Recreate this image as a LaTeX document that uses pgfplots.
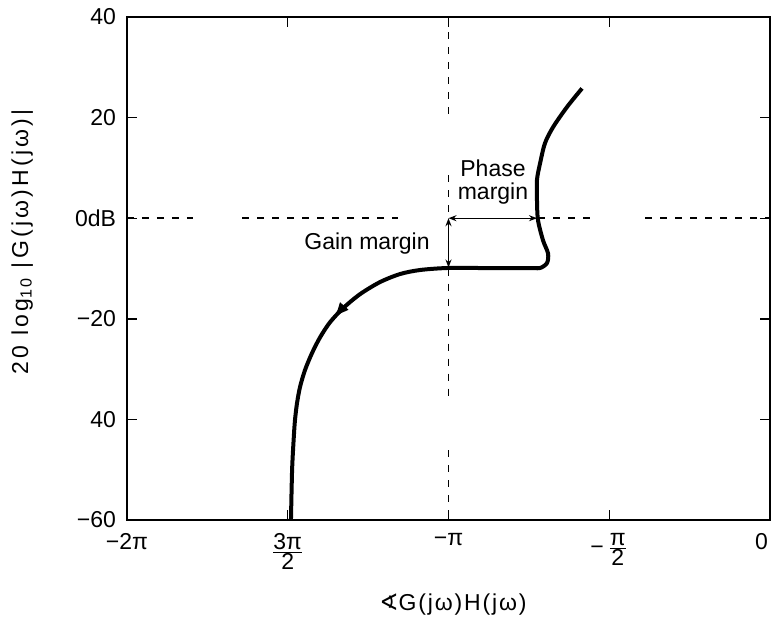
\documentclass[border=0pt]{standalone}
\usepackage{fontspec}
\setmainfont{Liberation Sans}
\newfontfamily\dejavu{DejaVu Sans}
\usepackage{pgfplots}
\pgfplotsset{compat=1.18}
\usetikzlibrary{arrows.meta,decorations.markings}
\begin{document}
\begin{tikzpicture}[x=1pt,y=1pt]
\useasboundingbox (-63.5,-59.5) rectangle (322.5,260);
\begin{axis}[
  at={(0,0)}, anchor=south west,
  width=321.5pt, height=251.5pt, scale only axis,
  xmin=-6.2832, xmax=0, ymin=-60, ymax=40,
  xtick={-6.2832,-4.7124,-3.1416,-1.5708,0},
  xticklabels={−2π, $\frac{\mbox{3π}}{\mbox{2}}$, −π, −\,$\frac{\mbox{π}}{\mbox{2}}$, \makebox[0pt][r]{0\hspace*{1pt}}},
  ytick={-60,-40,-20,0,20,40},
  yticklabels={−60,40,−20,0dB,20,40},
  tick align=inside, major tick length=5pt,
  axis line style={line width=0.8pt},
  every tick/.style={black, line width=0.7pt},
  tick label style={font=\fontsize{11.5}{13}\selectfont},
  yticklabel style={xshift=-2pt},
  xticklabel style={yshift=-3pt},
  xlabel={{\dejavu ∢}G(jω)H(jω)},
  ylabel={20 log\textsubscript{10} |G(jω)H(jω)|},
  xlabel style={at={(axis description cs:0.507,-0.169)}, anchor=center,
    font=\fontsize{11.5}{13}\selectfont\addfontfeature{LetterSpace=8}},
  ylabel style={at={(axis description cs:-0.163,0.553)}, anchor=center,
    font=\fontsize{11.5}{13}\selectfont\addfontfeature{LetterSpace=14}},
]
% dashed reference lines (0 dB and -pi)
\addplot[black, line width=0.8pt, dash pattern=on 3.5pt off 4pt] coordinates {(-6.2832,0) (-5.638,0)};
\addplot[black, line width=0.8pt, dash pattern=on 3.5pt off 4pt] coordinates {(-5.159,0) (-3.635,0)};
\addplot[black, line width=0.8pt, dash pattern=on 3.5pt off 4pt] coordinates {(-2.267,0) (-1.690,0)};
\addplot[black, line width=0.8pt, dash pattern=on 3.5pt off 4pt] coordinates {(-1.221,0) (0,0)};
\addplot[black, line width=0.8pt, dash pattern=on 3.5pt off 4pt] coordinates {(-3.1416,40) (-3.1416,20.5)};
\addplot[black, line width=0.8pt, dash pattern=on 3.5pt off 4pt] coordinates {(-3.1416,8.5) (-3.1416,0)};
\addplot[black, line width=0.8pt, dash pattern=on 3.5pt off 4pt] coordinates {(-3.1416,-10) (-3.1416,-36.8)};
\addplot[black, line width=0.8pt, dash pattern=on 3.5pt off 4pt] coordinates {(-3.1416,-46.1) (-3.1416,-60)};
% locus
\addplot[black, line width=2pt, smooth, tension=0.5,
  postaction={decorate},
  decoration={markings, mark=at position 0.665 with {\arrow{Latex[length=8pt,width=6pt]}}}]
  coordinates {
  (-1.837,25.8) (-1.984,22.1) (-2.120,18.1) (-2.199,14.9) (-2.247,10.9)
  (-2.277,7.6) (-2.277,3.6) (-2.267,-0.4) (-2.218,-4.4) (-2.169,-7.0)
  (-2.179,-8.9) (-2.247,-9.9) (-2.345,-9.9) (-2.834,-9.9) (-3.156,-9.9)
  (-3.420,-10.3) (-3.615,-11.1) (-3.811,-12.7) (-4.006,-15.1) (-4.172,-17.9)
  (-4.300,-20.7) (-4.397,-23.7) (-4.475,-26.8) (-4.544,-30.2) (-4.593,-33.6)
  (-4.622,-36.8) (-4.642,-40.2) (-4.655,-44.1) (-4.670,-50.1) (-4.681,-60)
  };
% margins
\addplot[black, line width=0.7pt, {Stealth[length=4pt,width=3pt]}-{Stealth[length=4pt,width=3pt]}]
  coordinates {(-3.1416,0) (-3.1416,-9.8)};
\addplot[black, line width=0.7pt, {Stealth[length=4pt,width=3pt]}-{Stealth[length=4pt,width=3pt]}]
  coordinates {(-3.1416,0) (-2.277,0)};
\node[font=\fontsize{11.5}{13}\selectfont] at (axis cs:-3.938,-5.0) {Gain margin};
\node[font=\fontsize{11.5}{11.5}\selectfont, align=center] at (axis cs:-2.707,7.2) {Phase\\margin};
\end{axis}
\end{tikzpicture}
\end{document}
